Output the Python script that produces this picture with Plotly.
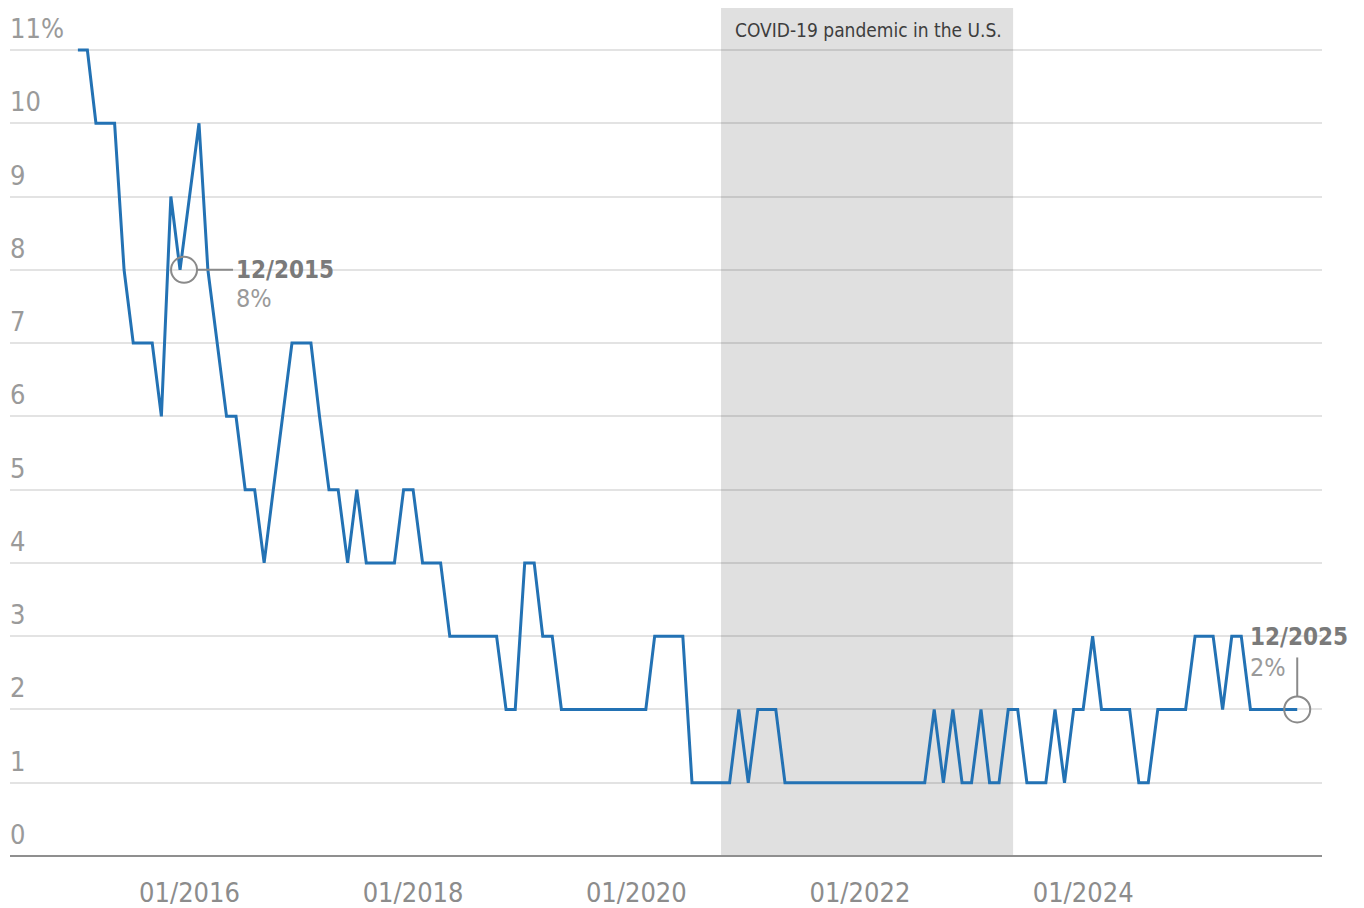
import pandas as pd
import plotly.graph_objects as go

# Monthly series, 01/2015 - 12/2025 (percent)
months = pd.date_range("2015-01-01", periods=132, freq="MS")
rate = [
    11, 11, 10, 10, 10, 8, 7, 7, 7, 6, 9, 8,          # 2015
    9, 10, 8, 7, 6, 6, 5, 5, 4, 5, 6, 7,              # 2016
    7, 7, 6, 5, 5, 4, 5, 4, 4, 4, 4, 5,               # 2017
    5, 4, 4, 4, 3, 3, 3, 3, 3, 3, 2, 2,               # 2018
    4, 4, 3, 3, 2, 2, 2, 2, 2, 2, 2, 2,               # 2019
    2, 2, 3, 3, 3, 3, 1, 1, 1, 1, 1, 2,               # 2020
    1, 2, 2, 2, 1, 1, 1, 1, 1, 1, 1, 1,               # 2021
    1, 1, 1, 1, 1, 1, 1, 1, 2, 1, 2, 1,               # 2022
    1, 2, 1, 1, 2, 2, 1, 1, 1, 2, 1, 2,               # 2023
    2, 3, 2, 2, 2, 2, 1, 1, 2, 2, 2, 2,               # 2024
    3, 3, 3, 2, 3, 3, 2, 2, 2, 2, 2, 2,               # 2025
]

y_ticks = list(range(0, 12))
y_tick_text = [str(v) for v in y_ticks[:-1]] + ["11%"]
x_ticks = ["2016-01-01", "2018-01-01", "2020-01-01", "2022-01-01", "2024-01-01"]

covid_start, covid_end = "2020-10-04", "2023-05-17"
covid_label = "COVID-19 pandemic in the U.S."

first_label = ("12/2015", "8%")
last_label = ("12/2025", "2%")

NARROW = "Liberation Sans Narrow, DejaVu Sans Condensed, Roboto Condensed, Arial Narrow, sans-serif"
LINE_BLUE = "#2372b4"
NOTE_GRAY = "#8a8a8a"

fig = go.Figure()

fig.add_trace(go.Scatter(
    x=months, y=rate, mode="lines",
    line=dict(color=LINE_BLUE, width=3),
    hoverinfo="x+y", showlegend=False,
))

# pandemic period shading
fig.add_vrect(x0=covid_start, x1=covid_end, fillcolor="#e0e0e0",
              line_width=0, layer="below")
fig.add_annotation(x=covid_start, y=1, xref="x", yref="paper",
                   xanchor="left", yanchor="top", xshift=12, yshift=-9,
                   text=covid_label, showarrow=False,
                   font=dict(family=NARROW, size=19, color="#3d3d3d"))

# y tick labels sit above each gridline
for v, t in zip(y_ticks, y_tick_text):
    fig.add_annotation(x=0, xref="paper", y=v, yref="y",
                       xanchor="left", yanchor="bottom", xshift=-2, yshift=4,
                       text=t, showarrow=False,
                       font=dict(family=NARROW, size=27, color="#9a9a9a"))

# callout: 12/2015
x_first, y_first = months[11], rate[11]
fig.add_shape(type="circle", xref="x", yref="y",
              xsizemode="pixel", ysizemode="pixel",
              xanchor=x_first, yanchor=y_first,
              x0=-9, x1=17, y0=-13, y1=13,
              line=dict(color=NOTE_GRAY, width=2), fillcolor="rgba(0,0,0,0)")
fig.add_shape(type="line", xref="x", yref="y",
              xsizemode="pixel", ysizemode="pixel",
              xanchor=x_first, yanchor=y_first,
              x0=17, x1=53, y0=0, y1=0,
              line=dict(color=NOTE_GRAY, width=2))
fig.add_annotation(x=x_first, y=y_first, xanchor="left", yanchor="middle",
                   xshift=54, yshift=0, showarrow=False,
                   text="<b>%s</b>" % first_label[0],
                   font=dict(family=NARROW, size=24, color="#7a7a7a"))
fig.add_annotation(x=x_first, y=y_first, xanchor="left", yanchor="middle",
                   xshift=54, yshift=-29, showarrow=False,
                   text=first_label[1],
                   font=dict(family=NARROW, size=25, color="#9a9a9a"))

# callout: 12/2025
x_last, y_last = months[-1], rate[-1]
fig.add_shape(type="circle", xref="x", yref="y",
              xsizemode="pixel", ysizemode="pixel",
              xanchor=x_last, yanchor=y_last,
              x0=-13, x1=13, y0=-13, y1=13,
              line=dict(color=NOTE_GRAY, width=2), fillcolor="rgba(0,0,0,0)")
fig.add_shape(type="line", xref="x", yref="y",
              xsizemode="pixel", ysizemode="pixel",
              xanchor=x_last, yanchor=y_last,
              x0=0, x1=0, y0=13, y1=52,
              line=dict(color=NOTE_GRAY, width=2))
fig.add_annotation(x=x_last, y=y_last, xanchor="left", yanchor="middle",
                   xshift=-49, yshift=72, showarrow=False,
                   text="<b>%s</b>" % last_label[0],
                   font=dict(family=NARROW, size=24, color="#7a7a7a"))
fig.add_annotation(x=x_last, y=y_last, xanchor="left", yanchor="middle",
                   xshift=-49, yshift=42, showarrow=False,
                   text=last_label[1],
                   font=dict(family=NARROW, size=25, color="#9a9a9a"))

fig.update_layout(
    width=1364, height=908,
    margin=dict(l=10, r=42, t=8, b=52, autoexpand=False),
    paper_bgcolor="white", plot_bgcolor="white",
    showlegend=False,
    xaxis=dict(
        range=["2014-05-24", "2026-02-20"],
        tickvals=x_ticks, tickformat="%m/%Y",
        showgrid=False, zeroline=False, showline=False, ticks="",
        ticklabelstandoff=18, automargin=False,
        tickfont=dict(family=NARROW, size=27, color="#8c8c8c"),
    ),
    yaxis=dict(
        range=[0, 11.573], tickvals=y_ticks, showticklabels=False,
        showgrid=True, gridcolor="rgba(0,0,0,0.11)", gridwidth=2,
        zeroline=True, zerolinecolor="#8f8f8f", zerolinewidth=2,
        showline=False, ticks="", automargin=False,
    ),
)

fig.write_html("out.html")
